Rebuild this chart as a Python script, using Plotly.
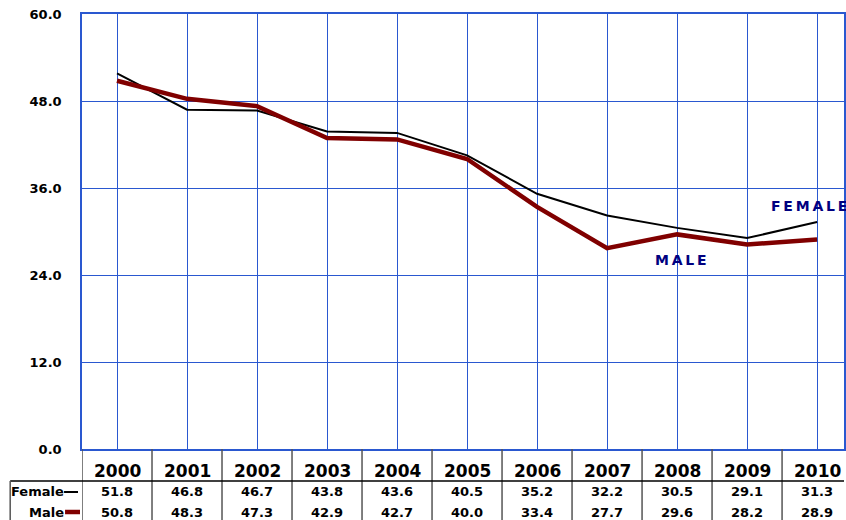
import plotly.graph_objects as go

years = ["2000", "2001", "2002", "2003", "2004", "2005", "2006", "2007", "2008", "2009", "2010"]
female = [51.8, 46.8, 46.7, 43.8, 43.6, 40.5, 35.2, 32.2, 30.5, 29.1, 31.3]
male = [50.8, 48.3, 47.3, 42.9, 42.7, 40.0, 33.4, 27.7, 29.6, 28.2, 28.9]
y_ticks = [0, 12, 24, 36, 48, 60]
y_tick_labels = ["0.0", "12.0", "24.0", "36.0", "48.0", "60.0"]

W, H = 846, 520
L, R, T, B = 82, 0, 14, 71
PW = W - L - R
PH = H - T - B
FONT = "DejaVu Sans"
GRID = "#2a58d0"

def px_to_paper_y(py):
    return (H - B - py) / PH

def px_to_paper_x(px):
    return (px - L) / PW

xs = list(range(len(years)))

fig = go.Figure()
fig.add_trace(go.Scatter(x=xs, y=female, mode="lines", name="Female",
                         line=dict(color="black", width=2)))
fig.add_trace(go.Scatter(x=xs, y=male, mode="lines", name="Male",
                         line=dict(color="#800000", width=4.5)))

shapes = []
annotations = []

for i, yr in enumerate(years):
    annotations.append(dict(x=i, y=px_to_paper_y(471), xref="x", yref="paper",
                            text=f"<b>{yr}</b>", showarrow=False,
                            font=dict(family=FONT, size=17, color="black"),
                            xanchor="center", yanchor="middle"))
    annotations.append(dict(x=i, y=px_to_paper_y(492), xref="x", yref="paper",
                            text=f"<b>{female[i]:.1f}</b>", showarrow=False,
                            font=dict(family=FONT, size=13, color="black"),
                            xanchor="center", yanchor="middle"))
    annotations.append(dict(x=i, y=px_to_paper_y(512), xref="x", yref="paper",
                            text=f"<b>{male[i]:.1f}</b>", showarrow=False,
                            font=dict(family=FONT, size=13, color="black"),
                            xanchor="center", yanchor="middle"))

for k in range(len(years)):
    shapes.append(dict(type="line", xref="x", yref="paper",
                       x0=k - 0.5, x1=k - 0.5,
                       y0=px_to_paper_y(449), y1=px_to_paper_y(521),
                       line=dict(color="#555555", width=1.5)))
shapes.append(dict(type="line", xref="paper", yref="paper",
                   x0=px_to_paper_x(10), x1=1.0,
                   y0=px_to_paper_y(481), y1=px_to_paper_y(481),
                   line=dict(color="black", width=1.5)))
shapes.append(dict(type="line", xref="paper", yref="paper",
                   x0=px_to_paper_x(10), x1=px_to_paper_x(10),
                   y0=px_to_paper_y(481), y1=px_to_paper_y(521),
                   line=dict(color="#555555", width=1.5)))

annotations.append(dict(x=px_to_paper_x(66), y=px_to_paper_y(492), xref="paper", yref="paper",
                        text="<b>Female</b>", showarrow=False,
                        font=dict(family=FONT, size=13, color="black"),
                        xanchor="right", yanchor="middle"))
annotations.append(dict(x=px_to_paper_x(66), y=px_to_paper_y(512), xref="paper", yref="paper",
                        text="<b>Male</b>", showarrow=False,
                        font=dict(family=FONT, size=13, color="black"),
                        xanchor="right", yanchor="middle"))
shapes.append(dict(type="line", xref="paper", yref="paper",
                   x0=px_to_paper_x(64), x1=px_to_paper_x(78),
                   y0=px_to_paper_y(492), y1=px_to_paper_y(492),
                   line=dict(color="black", width=2)))
shapes.append(dict(type="line", xref="paper", yref="paper",
                   x0=px_to_paper_x(65), x1=px_to_paper_x(80),
                   y0=px_to_paper_y(512), y1=px_to_paper_y(512),
                   line=dict(color="#800000", width=4.5)))

ts = "\u2009"
annotations.append(dict(x=9.88, y=33.5, xref="x", yref="y",
                        text="<b>" + ts.join("FEMALE") + "</b>", showarrow=False,
                        font=dict(family=FONT, size=14, color="#000080"),
                        xanchor="center", yanchor="middle"))
annotations.append(dict(x=8.05, y=26.1, xref="x", yref="y",
                        text="<b>" + ts.join("MALE") + "</b>", showarrow=False,
                        font=dict(family=FONT, size=14, color="#000080"),
                        xanchor="center", yanchor="middle"))

right_edge = (len(years) - 1) + (W - 819) / 70.2

fig.update_layout(
    width=W, height=H,
    margin=dict(l=L, r=R, t=T, b=B, pad=0),
    paper_bgcolor="white", plot_bgcolor="white",
    showlegend=False,
    xaxis=dict(range=[-0.5, right_edge], tickvals=xs, showticklabels=False,
               showgrid=True, gridcolor=GRID, gridwidth=1.2, zeroline=False,
               showline=True, linecolor=GRID, linewidth=1.5, mirror=True, ticks=""),
    yaxis=dict(range=[0, 60], tickvals=y_ticks, ticktext=[f"<b>{t}</b>" for t in y_tick_labels],
               tickfont=dict(family=FONT, size=13, color="black"),
               showgrid=True, gridcolor=GRID, gridwidth=1.2, zeroline=False,
               showline=True, linecolor=GRID, linewidth=1.5, mirror=True,
               ticks="", ticklabelstandoff=16),
    shapes=shapes,
    annotations=annotations,
)

fig.write_html("out.html", config={"displayModeBar": False},
               post_script="document.body.style.margin='0';document.body.style.overflow='hidden';")
